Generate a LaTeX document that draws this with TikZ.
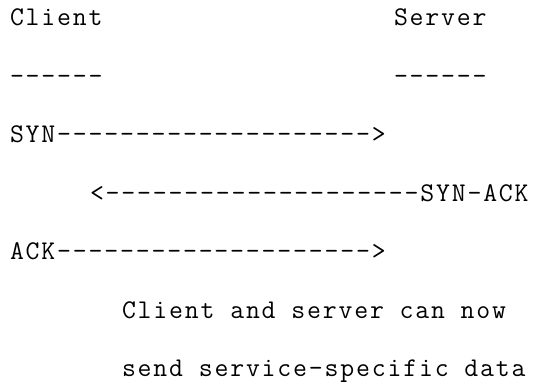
\documentclass[tikz,border=0pt]{standalone}
\usepackage{fontspec}
\newfontfamily\lmtt{Latin Modern Mono}[LetterSpace=6.76]
\begin{document}
\begin{tikzpicture}[x=1pt,y=1pt,
  txt/.style={anchor=base west,inner sep=0pt,outer sep=0pt,font=\lmtt\fontsize{27pt}{30pt}\selectfont}]
\useasboundingbox (0,0) rectangle (543,390);
\def\cw{16.0}
\def\xo{10}
\node[txt] (client) at (\xo,390-26) {Client};
\node[txt] (server) at (\xo+24*\cw,390-26) {Server};
\node[txt] (cdash) at (\xo,390-84.5) {------};
\node[txt] (sdash) at (\xo+24*\cw,390-84.5) {------};
\node[txt] (syn) at (\xo,390-143) {SYN-------------------->};
\node[txt] (synack) at (\xo+5*\cw,390-201.5) {<--------------------SYN-ACK};
\node[txt] (ack) at (\xo,390-260) {ACK-------------------->};
\node[txt] (note1) at (\xo+7*\cw,390-318.5) {Client and server can now};
\node[txt] (note2) at (\xo+7*\cw,390-377) {send service-specific data};
\end{tikzpicture}
\end{document}
